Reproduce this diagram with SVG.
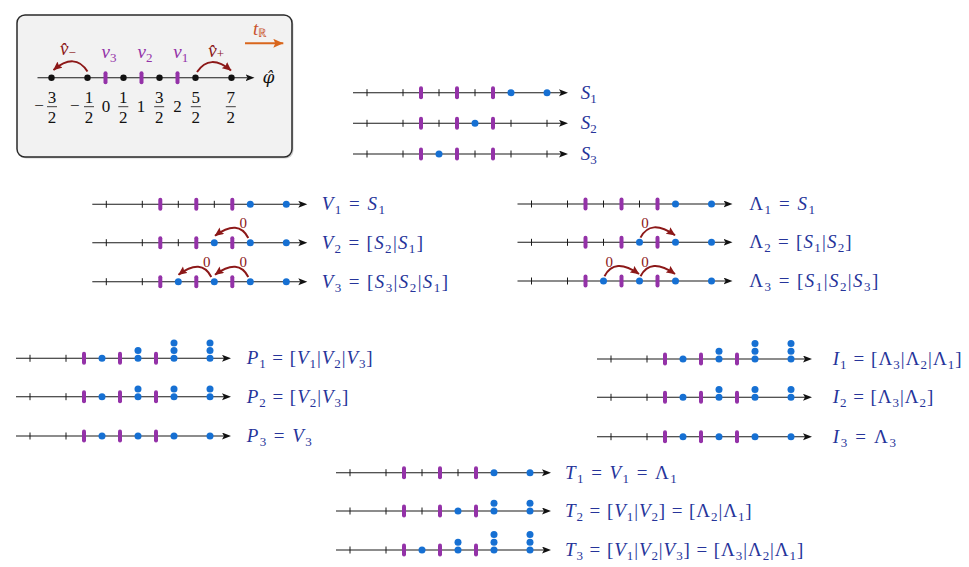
<svg xmlns="http://www.w3.org/2000/svg" width="969" height="567" viewBox="0 0 969 567">
<style>
.ax{stroke:#1a1a1a;stroke-width:1.1;fill:none}
.tk{stroke:#1a1a1a;stroke-width:1}
.bar{fill:#9432a8}
.dot{fill:#1670d3}
.bdot{fill:#111}
.lbl{font-family:"Liberation Serif",serif;font-size:19px;fill:#26349a}
.i{font-style:italic}
.sb{font-size:13px;baseline-shift:-4px}
.arc{stroke:#8c1818;stroke-width:2;fill:none}
.zero{font-family:"Liberation Serif",serif;font-size:15px;fill:#8c1818;text-anchor:middle}
.num{font-family:"Liberation Serif",serif;font-size:17px;fill:#111;text-anchor:middle}
.fb{stroke:#111;stroke-width:0.8}
.nu{font-family:"Liberation Serif",serif;font-size:19px;fill:#9432a8}
.vh{font-family:"Liberation Serif",serif;font-size:19px;fill:#8c1818}
</style>
<defs>
<marker id="ah" markerUnits="userSpaceOnUse" markerWidth="10" markerHeight="8" refX="2" refY="3.5" orient="auto">
<path d="M0,0 L9,3.5 L0,7 L2,3.5 z" fill="#111"/>
</marker>
<marker id="rh" markerUnits="userSpaceOnUse" markerWidth="10" markerHeight="9" refX="8.5" refY="4" orient="auto">
<path d="M0,0 L9,4 L0,8 L1.5,4 z" fill="#8c1818"/>
</marker>
<marker id="oh" markerUnits="userSpaceOnUse" markerWidth="11" markerHeight="10" refX="10" refY="4.5" orient="auto">
<path d="M0,0 L10,4.5 L0,9 L2,4.5 z" fill="#d9661c"/>
</marker>
<line id="tk" class="tk" y1="-3.5" y2="3.5"/>
<rect id="bar" class="bar" x="-2" y="-6.5" width="4" height="13" rx="2"/>
<circle id="dot" class="dot" r="3.5"/>
<circle id="bd" class="bdot" r="3.2"/>
<g id="bars"><use href="#bar"/><use href="#bar" x="36"/><use href="#bar" x="72"/></g>
<g id="lt"><use href="#tk" x="-54"/><use href="#tk" x="-18"/></g>
<g id="s2"><use href="#dot"/><use href="#dot" y="-7.7"/></g>
<g id="s3"><use href="#dot"/><use href="#dot" y="-7.7"/><use href="#dot" y="-15.4"/></g>
</defs>
<rect width="969" height="567" fill="#fff"/>

<!-- legend box -->
<g id="legend">
<rect x="18.5" y="16.5" width="275" height="142" rx="8" fill="#777" opacity="0.35"/>
<rect x="17" y="15" width="275" height="142" rx="8" fill="#f2f2f2" stroke="#2a2a2a" stroke-width="1.5"/>
<g transform="translate(105.5,77.7)">
<line class="ax" x1="-68" x2="142" marker-end="url(#ah)"/>
<use href="#bars"/>
<use href="#bd" x="-54"/><use href="#bd" x="-18"/><use href="#bd" x="18"/><use href="#bd" x="54"/><use href="#bd" x="90"/><use href="#bd" x="126"/>
</g>
<text class="num" x="39" y="111">−</text>
<text class="num" x="52" y="103">3</text><line class="fb" x1="47" x2="57" y1="106.7" y2="106.7"/><text class="num" x="52" y="123">2</text>
<text class="num" x="74.7" y="111">−</text>
<text class="num" x="89" y="103">1</text><line class="fb" x1="84" x2="94" y1="106.7" y2="106.7"/><text class="num" x="89" y="123">2</text>
<text class="num" x="106" y="111.7">0</text>
<text class="num" x="123.3" y="103">1</text><line class="fb" x1="118.3" x2="128.3" y1="106.7" y2="106.7"/><text class="num" x="123.3" y="123">2</text>
<text class="num" x="141" y="111.7">1</text>
<text class="num" x="159.2" y="103">3</text><line class="fb" x1="154.2" x2="164.2" y1="106.7" y2="106.7"/><text class="num" x="159.2" y="123">2</text>
<text class="num" x="177.5" y="111.7">2</text>
<text class="num" x="195.8" y="103">5</text><line class="fb" x1="190.8" x2="200.8" y1="106.7" y2="106.7"/><text class="num" x="195.8" y="123">2</text>
<text class="num" x="230.8" y="103">7</text><line class="fb" x1="225.8" x2="235.8" y1="106.7" y2="106.7"/><text class="num" x="230.8" y="123">2</text>
<text class="nu" x="101.5" y="58"><tspan class="i">ν</tspan><tspan class="sb">3</tspan></text>
<text class="nu" x="137.5" y="58"><tspan class="i">ν</tspan><tspan class="sb">2</tspan></text>
<text class="nu" x="173.3" y="58"><tspan class="i">ν</tspan><tspan class="sb">1</tspan></text>
<text class="vh" x="60" y="55"><tspan class="i">v̂</tspan><tspan font-size="13px" dy="2">−</tspan></text>
<text class="vh" x="208.3" y="57"><tspan class="i">v̂</tspan><tspan font-size="13px" dy="1">+</tspan></text>
<text x="262.5" y="83" font-family="DejaVu Serif,serif" font-size="17px" font-style="italic" fill="#111">φ̂</text>
<text x="253" y="35" font-family="Liberation Serif,serif" font-size="19px" fill="#c9532c"><tspan class="i">t</tspan><tspan font-size="12px" dy="2">ℝ</tspan></text>
<line x1="245" y1="43.3" x2="283.3" y2="43.3" stroke="#d9661c" stroke-width="2" marker-end="url(#oh)"/>
<path class="arc" d="M87.5,71.5 Q75,52 53.5,70" marker-end="url(#rh)"/>
<path class="arc" d="M197,72 Q210,53 231,70.5" marker-end="url(#rh)"/>
</g>

<!-- S rows -->
<g id="row-S1" transform="translate(421,92.7)">
<line class="ax" x1="-68" x2="140" marker-end="url(#ah)"/>
<use href="#lt"/><use href="#tk" x="18"/><use href="#tk" x="54"/>
<use href="#bars"/>
<use href="#dot" x="90"/><use href="#dot" x="126"/>
<text class="lbl" x="159.7" y="6"><tspan class="i">S</tspan><tspan class="sb">1</tspan></text>
</g>
<g id="row-S2" transform="translate(421,123.3)">
<line class="ax" x1="-68" x2="140" marker-end="url(#ah)"/>
<use href="#lt"/><use href="#tk" x="18"/><use href="#tk" x="90"/><use href="#tk" x="126"/>
<use href="#bars"/>
<use href="#dot" x="54"/>
<text class="lbl" x="159.7" y="6"><tspan class="i">S</tspan><tspan class="sb">2</tspan></text>
</g>
<g id="row-S3" transform="translate(421,154)">
<line class="ax" x1="-68" x2="140" marker-end="url(#ah)"/>
<use href="#lt"/><use href="#tk" x="54"/><use href="#tk" x="90"/><use href="#tk" x="126"/>
<use href="#bars"/>
<use href="#dot" x="18"/>
<text class="lbl" x="159.7" y="6"><tspan class="i">S</tspan><tspan class="sb">3</tspan></text>
</g>

<!-- V rows -->
<g id="row-V1" transform="translate(160.3,204.3)">
<line class="ax" x1="-68" x2="140" marker-end="url(#ah)"/>
<use href="#lt"/><use href="#tk" x="18"/><use href="#tk" x="54"/>
<use href="#bars"/>
<use href="#dot" x="90"/><use href="#dot" x="126"/>
<text class="lbl" x="161.4" y="6" textLength="63.3"><tspan class="i">V</tspan><tspan class="sb">1</tspan> = <tspan class="i">S</tspan><tspan class="sb">1</tspan></text>
</g>
<g id="row-V2" transform="translate(160.3,242.7)">
<line class="ax" x1="-68" x2="140" marker-end="url(#ah)"/>
<use href="#lt"/><use href="#tk" x="18"/>
<use href="#bars"/>
<use href="#dot" x="54"/><use href="#dot" x="90"/><use href="#dot" x="126"/>
<text class="lbl" x="161.4" y="6" textLength="101.3"><tspan class="i">V</tspan><tspan class="sb">2</tspan> = [<tspan class="i">S</tspan><tspan class="sb">2</tspan>|<tspan class="i">S</tspan><tspan class="sb">1</tspan>]</text>
</g>
<g id="row-V3" transform="translate(160.3,281.7)">
<line class="ax" x1="-68" x2="140" marker-end="url(#ah)"/>
<use href="#lt"/>
<use href="#bars"/>
<use href="#dot" x="18"/><use href="#dot" x="54"/><use href="#dot" x="90"/><use href="#dot" x="126"/>
<text class="lbl" x="161.4" y="6" textLength="126.3"><tspan class="i">V</tspan><tspan class="sb">3</tspan> = [<tspan class="i">S</tspan><tspan class="sb">3</tspan>|<tspan class="i">S</tspan><tspan class="sb">2</tspan>|<tspan class="i">S</tspan><tspan class="sb">1</tspan>]</text>
</g>

<!-- Lambda rows -->
<g id="row-L1" transform="translate(585.5,204)">
<line class="ax" x1="-68" x2="140" marker-end="url(#ah)"/>
<use href="#lt"/><use href="#tk" x="18"/><use href="#tk" x="54"/>
<use href="#bars"/>
<use href="#dot" x="90"/><use href="#dot" x="126"/>
<text class="lbl" x="163.8" y="6" textLength="65.7">Λ<tspan class="sb">1</tspan> = <tspan class="i">S</tspan><tspan class="sb">1</tspan></text>
</g>
<g id="row-L2" transform="translate(585.5,242.3)">
<line class="ax" x1="-68" x2="140" marker-end="url(#ah)"/>
<use href="#lt"/><use href="#tk" x="18"/>
<use href="#bars"/>
<use href="#dot" x="54"/><use href="#dot" x="90"/><use href="#dot" x="126"/>
<text class="lbl" x="163.8" y="6" textLength="102.4">Λ<tspan class="sb">2</tspan> = [<tspan class="i">S</tspan><tspan class="sb">1</tspan>|<tspan class="i">S</tspan><tspan class="sb">2</tspan>]</text>
</g>
<g id="row-L3" transform="translate(585.5,281)">
<line class="ax" x1="-68" x2="140" marker-end="url(#ah)"/>
<use href="#lt"/>
<use href="#bars"/>
<use href="#dot" x="18"/><use href="#dot" x="54"/><use href="#dot" x="90"/><use href="#dot" x="126"/>
<text class="lbl" x="163.8" y="6" textLength="129">Λ<tspan class="sb">3</tspan> = [<tspan class="i">S</tspan><tspan class="sb">1</tspan>|<tspan class="i">S</tspan><tspan class="sb">2</tspan>|<tspan class="i">S</tspan><tspan class="sb">3</tspan>]</text>
</g>

<!-- P rows -->
<g id="row-P1" transform="translate(84,358.3)">
<line class="ax" x1="-68" x2="140" marker-end="url(#ah)"/>
<use href="#lt"/>
<use href="#bars"/>
<use href="#dot" x="18"/><use href="#s2" x="54"/><use href="#s3" x="90"/><use href="#s3" x="126"/>
<text class="lbl" x="162.7" y="6" textLength="126"><tspan class="i">P</tspan><tspan class="sb">1</tspan> = [<tspan class="i">V</tspan><tspan class="sb">1</tspan>|<tspan class="i">V</tspan><tspan class="sb">2</tspan>|<tspan class="i">V</tspan><tspan class="sb">3</tspan>]</text>
</g>
<g id="row-P2" transform="translate(84,396.7)">
<line class="ax" x1="-68" x2="140" marker-end="url(#ah)"/>
<use href="#lt"/>
<use href="#bars"/>
<use href="#dot" x="18"/><use href="#s2" x="54"/><use href="#s2" x="90"/><use href="#s2" x="126"/>
<text class="lbl" x="162.7" y="6" textLength="101.6"><tspan class="i">P</tspan><tspan class="sb">2</tspan> = [<tspan class="i">V</tspan><tspan class="sb">2</tspan>|<tspan class="i">V</tspan><tspan class="sb">3</tspan>]</text>
</g>
<g id="row-P3" transform="translate(84,436)">
<line class="ax" x1="-68" x2="140" marker-end="url(#ah)"/>
<use href="#lt"/>
<use href="#bars"/>
<use href="#dot" x="18"/><use href="#dot" x="54"/><use href="#dot" x="90"/><use href="#dot" x="126"/>
<text class="lbl" x="162.7" y="6" textLength="65"><tspan class="i">P</tspan><tspan class="sb">3</tspan> = <tspan class="i">V</tspan><tspan class="sb">3</tspan></text>
</g>

<!-- I rows -->
<g id="row-I1" transform="translate(665,359)">
<line class="ax" x1="-68" x2="140" marker-end="url(#ah)"/>
<use href="#lt"/>
<use href="#bars"/>
<use href="#dot" x="18"/><use href="#s2" x="54"/><use href="#s3" x="90"/><use href="#s3" x="126"/>
<text class="lbl" x="167.7" y="6" textLength="129"><tspan class="i">I</tspan><tspan class="sb">1</tspan> = [Λ<tspan class="sb">3</tspan>|Λ<tspan class="sb">2</tspan>|Λ<tspan class="sb">1</tspan>]</text>
</g>
<g id="row-I2" transform="translate(665,397.3)">
<line class="ax" x1="-68" x2="140" marker-end="url(#ah)"/>
<use href="#lt"/>
<use href="#bars"/>
<use href="#dot" x="18"/><use href="#s2" x="54"/><use href="#s2" x="90"/><use href="#s2" x="126"/>
<text class="lbl" x="167.7" y="6" textLength="100.6"><tspan class="i">I</tspan><tspan class="sb">2</tspan> = [Λ<tspan class="sb">3</tspan>|Λ<tspan class="sb">2</tspan>]</text>
</g>
<g id="row-I3" transform="translate(665,436.7)">
<line class="ax" x1="-68" x2="140" marker-end="url(#ah)"/>
<use href="#lt"/>
<use href="#bars"/>
<use href="#dot" x="18"/><use href="#dot" x="54"/><use href="#dot" x="90"/><use href="#dot" x="126"/>
<text class="lbl" x="167.7" y="6" textLength="63.3"><tspan class="i">I</tspan><tspan class="sb">3</tspan> = Λ<tspan class="sb">3</tspan></text>
</g>

<!-- T rows -->
<g id="row-T1" transform="translate(404,472.7)">
<line class="ax" x1="-68" x2="140" marker-end="url(#ah)"/>
<use href="#lt"/><use href="#tk" x="18"/><use href="#tk" x="54"/>
<use href="#bars"/>
<use href="#dot" x="90"/><use href="#dot" x="126"/>
<text class="lbl" x="161" y="6" textLength="111.7"><tspan class="i">T</tspan><tspan class="sb">1</tspan> = <tspan class="i">V</tspan><tspan class="sb">1</tspan> = Λ<tspan class="sb">1</tspan></text>
</g>
<g id="row-T2" transform="translate(404,511)">
<line class="ax" x1="-68" x2="140" marker-end="url(#ah)"/>
<use href="#lt"/><use href="#tk" x="18"/>
<use href="#bars"/>
<use href="#dot" x="54"/><use href="#s2" x="90"/><use href="#s2" x="126"/>
<text class="lbl" x="161" y="6" textLength="186.7"><tspan class="i">T</tspan><tspan class="sb">2</tspan> = [<tspan class="i">V</tspan><tspan class="sb">1</tspan>|<tspan class="i">V</tspan><tspan class="sb">2</tspan>] = [Λ<tspan class="sb">2</tspan>|Λ<tspan class="sb">1</tspan>]</text>
</g>
<g id="row-T3" transform="translate(404,550)">
<line class="ax" x1="-68" x2="140" marker-end="url(#ah)"/>
<use href="#lt"/>
<use href="#bars"/>
<use href="#dot" x="18"/><use href="#s2" x="54"/><use href="#s3" x="90"/><use href="#s3" x="126"/>
<text class="lbl" x="161" y="6" textLength="238.3"><tspan class="i">T</tspan><tspan class="sb">3</tspan> = [<tspan class="i">V</tspan><tspan class="sb">1</tspan>|<tspan class="i">V</tspan><tspan class="sb">2</tspan>|<tspan class="i">V</tspan><tspan class="sb">3</tspan>] = [Λ<tspan class="sb">3</tspan>|Λ<tspan class="sb">2</tspan>|Λ<tspan class="sb">1</tspan>]</text>
</g>

<!-- connectors: moves -->
<g id="connectors">
<path class="arc" d="M248.3,238 Q238.5,218.7 215,235.7" marker-end="url(#rh)"/>
<text class="zero" x="243.3" y="228">0</text>
<path class="arc" d="M248.3,277 Q238.5,257.7 215,274.7" marker-end="url(#rh)"/>
<path class="arc" d="M211.3,277 Q201.5,257.7 178.5,274.7" marker-end="url(#rh)"/>
<text class="zero" x="206.7" y="267">0</text>
<text class="zero" x="243.3" y="267">0</text>
<path class="arc" d="M640.5,237.6 Q650.5,218.3 675,235.3" marker-end="url(#rh)"/>
<text class="zero" x="645" y="227.7">0</text>
<path class="arc" d="M604.5,276.3 Q614.5,257 639,274" marker-end="url(#rh)"/>
<path class="arc" d="M640.5,276.3 Q650.5,257 675,274" marker-end="url(#rh)"/>
<text class="zero" x="609.3" y="267">0</text>
<text class="zero" x="645" y="267">0</text>
</g>
</svg>
